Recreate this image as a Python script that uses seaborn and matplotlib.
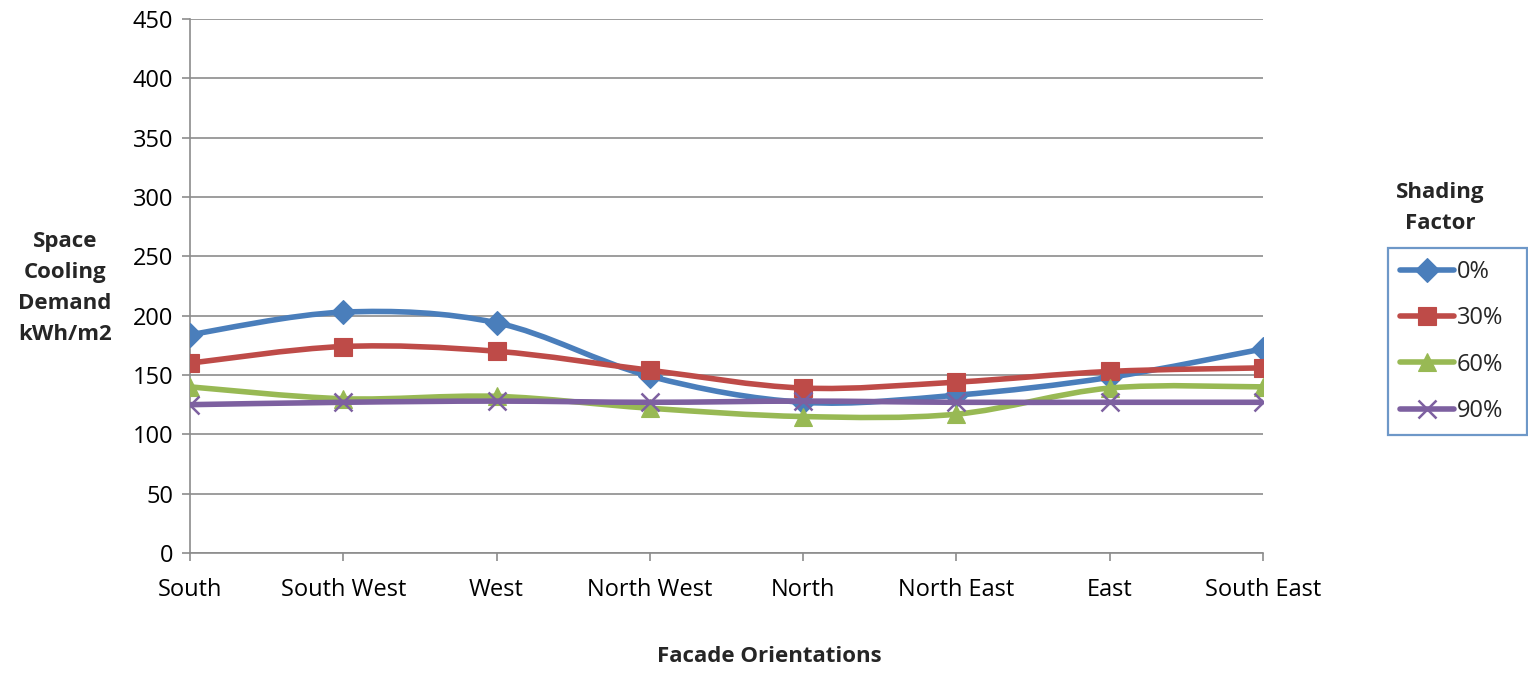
import numpy as np
import pandas as pd
import seaborn as sns
import matplotlib
matplotlib.use("Agg")
import matplotlib.pyplot as plt
from matplotlib.path import Path
from matplotlib.patches import PathPatch
from matplotlib.lines import Line2D

# Space cooling demand (kWh/m2) by facade orientation for each shading factor
orientations = ["South", "South West", "West", "North West",
                "North", "North East", "East", "South East"]
shading_labels = ["0%", "30%", "60%", "90%"]
sf_0 = [184, 203, 194, 149, 127, 133, 148, 172]
sf_30 = [160, 174, 170, 154, 139, 144, 153, 156]
sf_60 = [140, 130, 132, 122, 115, 117, 139, 140]
sf_90 = [125, 127, 128, 127, 128, 127, 127, 127]
y_ticks = [0, 50, 100, 150, 200, 250, 300, 350, 400, 450]

series = [sf_0, sf_30, sf_60, sf_90]
colors = ["#4A7EBB", "#BE4B48", "#98B954", "#7D60A0"]
markers = ["D", "s", "^", "x"]
msizes = [12.5, 13, 13.5, 13]

FS = 17      # regular text
FSB = 16     # bold titles

sns.set_theme(style="white")
plt.rcParams["font.family"] = ["Open Sans", "DejaVu Sans"]

fig = plt.figure(figsize=(15.28, 6.73), dpi=100)
ax = fig.add_axes([190 / 1528, 1 - 553 / 673, (1263 - 190) / 1528, (553 - 19) / 673])

xpos = np.arange(len(orientations))


def smooth_path(xs, ys):
    """Cubic Bezier path through the points (Catmull-Rom style control points)."""
    pts = np.column_stack([xs, ys]).astype(float)
    n = len(pts)
    verts = [pts[0]]
    codes = [Path.MOVETO]
    for i in range(n - 1):
        p0 = pts[max(i - 1, 0)]
        p1 = pts[i]
        p2 = pts[i + 1]
        p3 = pts[min(i + 2, n - 1)]
        c1 = p1 + (p2 - p0) / 6.0
        c2 = p2 - (p3 - p1) / 6.0
        verts += [c1, c2, p2]
        codes += [Path.CURVE4] * 3
    return Path(verts, codes)


for i, (vals, col, mk, ms) in enumerate(zip(series, colors, markers, msizes)):
    df = pd.DataFrame({"orientation": xpos, "demand": vals})
    patch = PathPatch(smooth_path(df["orientation"], df["demand"]), facecolor="none",
                      edgecolor=col, lw=4.0, capstyle="round", joinstyle="round",
                      zorder=3 + 2 * i)
    ax.add_patch(patch)
    sns.lineplot(data=df, x="orientation", y="demand", ax=ax, linestyle="",
                 marker=mk, markersize=ms, color=col, markeredgecolor=col,
                 markeredgewidth=1.8 if mk == "x" else 0.8, zorder=4 + 2 * i)

ax.set_xlim(0, len(orientations) - 1)
ax.set_ylim(0, 450)
ax.set_yticks(y_ticks)
ax.set_xticks(xpos)
ax.set_xticklabels(orientations)
ax.grid(axis="y", color="#8C8C8C", lw=1.2)
ax.grid(axis="x", visible=False)
ax.set_axisbelow(True)
for side in ["top", "right"]:
    ax.spines[side].set_visible(False)
for side in ["left", "bottom"]:
    ax.spines[side].set_color("#8C8C8C")
    ax.spines[side].set_linewidth(1.2)
ax.tick_params(axis="both", which="major", length=6, width=1.2, color="#8C8C8C",
               labelsize=FS, labelcolor="black", direction="out",
               bottom=True, left=True)
ax.tick_params(axis="y", pad=6)
ax.tick_params(axis="x", pad=12)
ax.set_xlabel("")
ax.set_ylabel("")

fig.text(65 / 1528, 1 - 288 / 673, "Space\nCooling\nDemand\nkWh/m2", ha="center",
         va="center", fontsize=FSB, fontweight="bold", linespacing=1.62)
fig.text(769 / 1528, 1 - 657 / 673, "Facade Orientations", ha="center", va="center",
         fontsize=FSB, fontweight="bold")
fig.text(1440 / 1528, 1 - 208 / 673, "Shading\nFactor", ha="center", va="center",
         fontsize=FSB, fontweight="bold", linespacing=1.58)

handles = [Line2D([0], [0], color=c, lw=4.0, marker=m, markersize=s,
                  markeredgecolor=c, markeredgewidth=1.8 if m == "x" else 0.8)
           for c, m, s in zip(colors, markers, msizes)]
leg = fig.legend(handles, shading_labels, loc="upper left", mode="expand",
                 bbox_to_anchor=(1388 / 1528, 1 - 432 / 673, 139 / 1528, 184 / 673),
                 bbox_transform=fig.transFigure, fontsize=FS, frameon=True,
                 fancybox=False, handlelength=2.3, handletextpad=0.1,
                 labelspacing=0.95, borderpad=0.5, borderaxespad=0)
leg.get_frame().set_edgecolor("#4A7EBB")
leg.get_frame().set_linewidth(1.6)

fig.savefig("out.png", dpi=100)
